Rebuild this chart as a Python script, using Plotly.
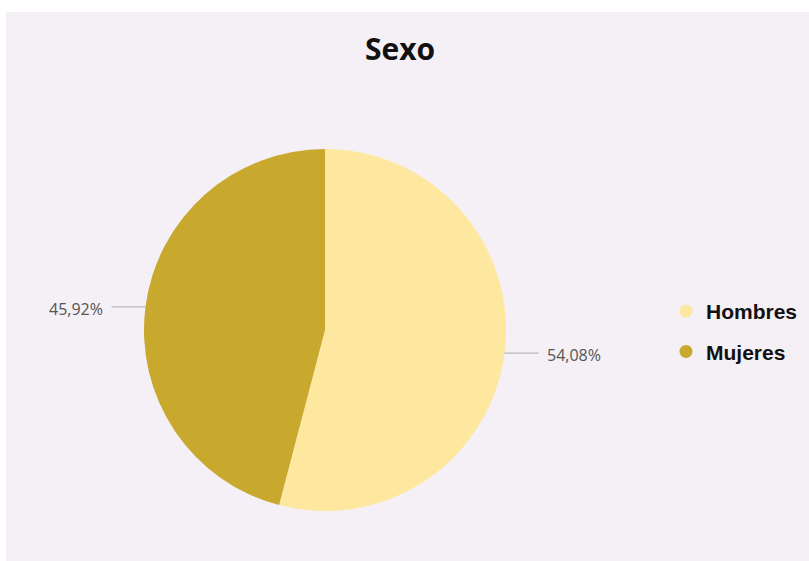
import math
import plotly.graph_objects as go

# ---- data ----
categories = ["Hombres", "Mujeres"]
values = [54.08, 45.92]
colors = ["#FEE8A0", "#C9A82E"]
title_text = "Sexo"

W, H = 809, 561
CX, CY, R = 325, 330, 181  # pie placement in pixels
LEAD = 34   # leader line length
GAP = 6     # gap between line and label

fig = go.Figure()

fig.add_trace(go.Pie(
    labels=categories, values=values,
    marker=dict(colors=colors, line=dict(width=0)),
    sort=False, direction="clockwise", rotation=0,
    textinfo="none", hoverinfo="label+percent", showlegend=False,
    domain=dict(x=[(CX - R) / W, (CX + R) / W], y=[1 - (CY + R) / H, 1 - (CY - R) / H]),
))

# legend entries with circle markers
for i, (cat, col) in enumerate(zip(categories, colors)):
    fig.add_trace(go.Scatter(
        x=[None], y=[None], mode="markers", name=cat, legendgroup=f"g{i}",
        marker=dict(symbol="circle", size=13, color=col),
    ))

# outside labels with leader lines, positioned from the slice mid-angles
total = sum(values)
cum = 0.0
shapes = [dict(type="rect", xref="paper", yref="paper", x0=6 / W, x1=1, y0=0, y1=1 - 12 / H,
               fillcolor="#F4F0F6", line=dict(width=0), layer="below")]
annotations = []
for v in values:
    mid = (cum + v / 2) / total * 2 * math.pi
    cum += v
    px = CX + R * math.sin(mid)
    py = CY - R * math.cos(mid)
    side = 1 if math.sin(mid) >= 0 else -1
    ex = px + side * LEAD
    shapes.append(dict(type="line", xref="paper", yref="paper",
                       x0=px / W, x1=ex / W, y0=1 - py / H, y1=1 - py / H,
                       line=dict(color="#AAAAAA", width=1)))
    txt = f"{v:.2f}".replace(".", ",") + "%"
    annotations.append(dict(
        x=(ex + side * GAP) / W, y=1 - (py + 2) / H, xref="paper", yref="paper",
        text=txt, showarrow=False, xanchor="left" if side > 0 else "right", yanchor="middle",
        font=dict(family="Open Sans, Liberation Sans, Arial", size=16, color="#555555"),
    ))

fig.update_layout(
    width=W, height=H,
    margin=dict(l=0, r=0, t=0, b=0),
    paper_bgcolor="white", plot_bgcolor="rgba(0,0,0,0)",
    xaxis=dict(visible=False), yaxis=dict(visible=False),
    title=dict(text=f"<b>{title_text}</b>", x=400 / W, y=1 - 49 / H, xref="paper", yref="paper",
               xanchor="center", yanchor="middle",
               font=dict(family="Open Sans, Liberation Sans, Arial", size=30, color="#111111")),
    legend=dict(x=666 / W, y=1 - 291 / H, xanchor="left", yanchor="top",
                bgcolor="rgba(0,0,0,0)", tracegroupgap=10,
                font=dict(family="Liberation Sans, Arial", size=21, color="#111111", weight="bold")),
    shapes=shapes, annotations=annotations,
)

fig.write_html("out.html")
